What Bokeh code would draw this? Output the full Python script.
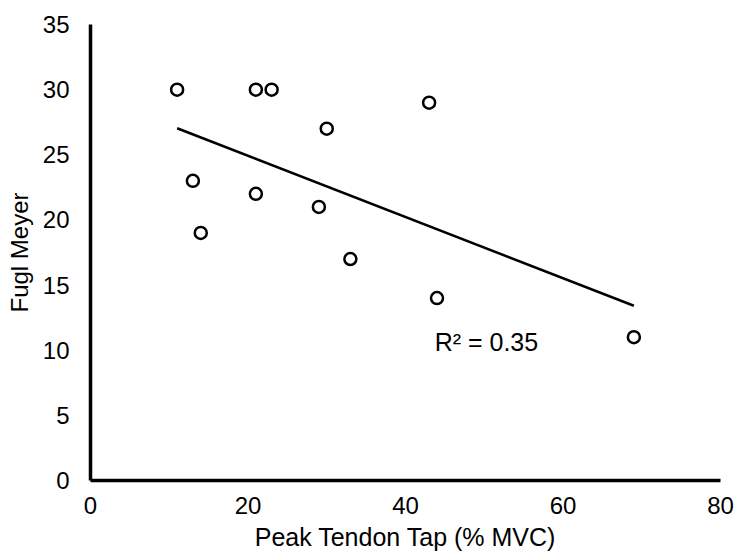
import numpy as np
from bokeh.plotting import figure
from bokeh.models import Range1d, FixedTicker, Label
from bokeh.embed import file_html
from bokeh.resources import INLINE

# Data
tendon_tap = [11, 21, 23, 43, 30, 13, 21, 29, 14, 33, 44, 69]
fugl_meyer = [30, 30, 30, 29, 27, 23, 22, 21, 19, 17, 14, 11]
x_ticks = [0, 20, 40, 60, 80]
y_ticks = [0, 5, 10, 15, 20, 25, 30, 35]
x_title = "Peak Tendon Tap (% MVC)"
y_title = "Fugl Meyer"
r2_text = "R² = 0.35"

FONT = "Liberation Sans"

p = figure(width=739, height=559, output_backend="svg", toolbar_location=None,
           x_range=Range1d(0, 80), y_range=Range1d(0, 35),
           min_border_left=90, min_border_right=19, min_border_top=24,
           min_border_bottom=79)
p.outline_line_color = None
p.grid.visible = False
p.background_fill_color = "white"
p.border_fill_color = "white"

for ax in (p.xaxis[0], p.yaxis[0]):
    ax.axis_line_width = 3.5
    ax.axis_line_color = "black"
    ax.major_tick_line_color = None
    ax.minor_tick_line_color = None
    ax.major_tick_out = 0
    ax.major_tick_in = 0
    ax.major_label_text_font = FONT
    ax.major_label_text_font_size = "24px"
    ax.major_label_text_color = "black"
    ax.axis_label_text_font = FONT
    ax.axis_label_text_font_style = "normal"
    ax.axis_label_text_color = "black"

p.xaxis[0].ticker = FixedTicker(ticks=x_ticks)
p.yaxis[0].ticker = FixedTicker(ticks=y_ticks)
p.xaxis[0].axis_label = x_title
p.yaxis[0].axis_label = y_title
p.xaxis[0].axis_label_text_font_size = "25px"
p.yaxis[0].axis_label_text_font_size = "24px"
p.xaxis[0].major_label_standoff = 16
p.yaxis[0].major_label_standoff = 21
p.xaxis[0].axis_label_standoff = 6
p.yaxis[0].axis_label_standoff = 7

# Linear trendline fitted to the data
xa = np.array(tendon_tap, dtype=float)
ya = np.array(fugl_meyer, dtype=float)
slope, intercept = np.polyfit(xa, ya, 1)
tx = np.array([xa.min(), xa.max()])
p.line(tx, slope * tx + intercept, line_color="black", line_width=2.5)

p.scatter(tendon_tap, fugl_meyer, marker="circle", size=12,
          fill_color="white", line_color="black", line_width=2.5)

p.add_layout(Label(x=43.7, y=10.6, text=r2_text, text_font=FONT,
                   text_font_size="25px", text_baseline="middle",
                   text_align="left", text_color="black"))

open("out.html", "w").write(file_html(p, INLINE))
